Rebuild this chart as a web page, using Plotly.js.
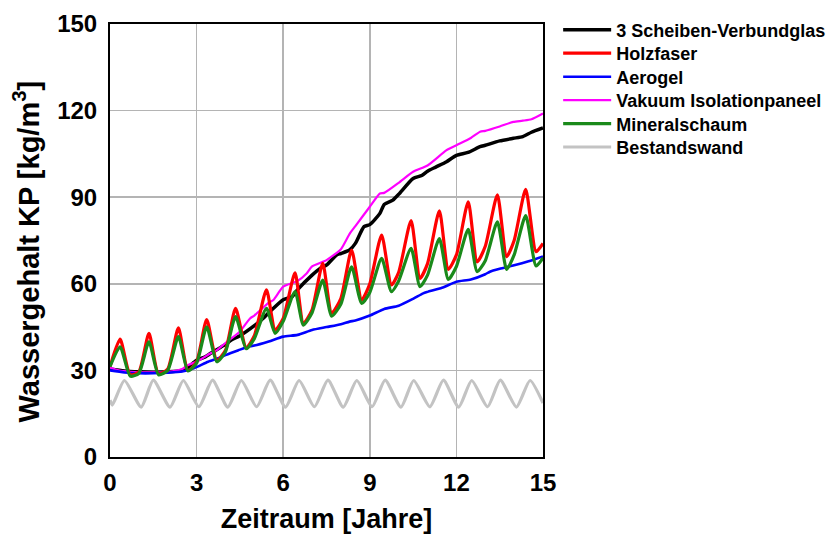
<!DOCTYPE html>
<html>
<head>
<meta charset="utf-8">
<script src="https://cdn.plot.ly/plotly-3.0.1.min.js"></script>
<style>html,body{margin:0;padding:0;background:#fff;}#chart{width:830px;height:537px;}</style>
</head>
<body>
<div id="chart"></div>
<script>
// ---- data ----
const seriesNames = ["3 Scheiben-Verbundglas","Holzfaser","Aerogel","Vakuum Isolationpaneel","Mineralschaum","Bestandswand"];

const glasX = [0,0.5,1.0,1.5,2.0,2.5,2.7,3.0,3.3,3.5,4.0,4.2,4.5,5.0,5.3,5.5,6.0,6.3,6.5,7.0,7.3,7.5,7.85,8.0,8.3,8.5,8.8,9.0,9.35,9.5,9.8,10.0,10.5,10.8,11.0,11.3,11.66,12.0,12.4,12.82,13.0,13.5,13.97,14.3,14.6,15.0];
const glasY = [30.5,29.8,29.5,29.4,29.5,30.0,31.0,33.5,34.7,36.0,39.0,40.5,42.0,45.5,48.0,50.0,54.5,55.5,58.0,63.0,65.5,66.5,70.0,70.5,71.7,74.0,79.8,80.5,84.4,87.5,89.0,91.0,96.5,97.5,99.0,100.5,102.3,104.5,105.5,107.5,108.0,109.5,110.4,111.0,112.5,114.0];

const holzX = [0,0.35,0.7,1.0,1.35,1.68,2.0,2.37,2.7,3.0,3.35,3.7,4.0,4.35,4.72,5.0,5.42,5.72,6.0,6.41,6.7,7.0,7.37,7.68,8.0,8.37,8.72,9.0,9.41,9.75,10.0,10.43,10.74,11.0,11.41,11.72,12.0,12.41,12.72,13.0,13.42,13.74,14.0,14.4,14.76,15.0];
const holzY = [31.3,40.8,28.5,29.5,42.8,28.8,30.5,44.7,30.0,33.0,47.6,33.5,37.0,51.5,37.8,42.0,57.9,44.0,48.0,63.8,46.3,51.0,67.1,49.8,55.0,71.7,54.4,60.0,76.9,59.6,64.0,81.9,61.9,67.0,85.3,65.0,70.0,88.4,67.6,73.0,90.8,69.4,75.0,92.7,71.1,74.0];

const aeroX = [0,0.5,1.0,1.5,2.0,2.5,2.9,3.4,3.75,4.0,4.45,4.85,5.0,5.5,6.0,6.5,7.0,7.5,8.0,8.3,8.5,9.0,9.5,10.0,10.5,10.85,11.0,11.5,12.0,12.5,13.0,13.16,13.5,14.0,14.5,15.0];
const aeroY = [30.0,29.3,29.0,29.0,29.2,29.6,30.7,33.0,34.2,35.3,37.0,38.4,38.6,40.0,41.7,42.3,44.0,45.0,46.0,46.9,47.3,49.0,51.3,52.4,54.8,56.7,57.2,58.6,60.7,61.5,63.3,64.2,65.2,66.4,67.8,69.5];

const vakX = [0,0.3,0.7,1.5,2.0,2.5,2.71,3.0,3.5,3.7,4.0,4.5,4.85,5.0,5.5,5.66,6.0,6.5,6.81,7.0,7.5,8.0,8.31,8.5,9.0,9.35,9.5,10.0,10.5,11.0,11.66,12.0,12.5,12.82,13.0,13.5,13.97,14.3,14.6,15.0];
const vakY = [31.0,30.0,29.5,29.3,29.5,30.5,31.9,33.0,36.0,37.0,39.5,43.5,48.0,49.0,53.5,54.4,59.0,61.0,63.6,66.0,68.2,72.0,77.5,80.0,86.7,91.3,91.5,95.0,98.8,101.0,106.3,108.0,110.5,112.7,113.0,114.5,116.1,116.5,117.0,119.0];

const minX = holzX;
const minY = [31.3,38.2,28.0,29.0,39.9,28.5,30.0,41.7,29.8,32.5,45.1,33.0,36.5,48.6,37.5,41.0,51.5,42.8,47.0,57.3,45.7,50.0,61.3,48.8,53.0,65.9,53.2,57.0,68.8,57.3,61.0,72.3,59.0,63.0,75.7,61.5,66.0,78.9,64.2,68.0,81.5,65.0,70.0,83.6,66.2,69.0];

const bestX = [0,0.08,0.5,1.08,1.5,2.08,2.54,3.08,3.55,4.08,4.55,5.08,5.55,6.08,6.55,7.08,7.55,8.08,8.55,9.08,9.53,10.08,10.52,11.08,11.55,12.08,12.53,13.08,13.52,14.08,14.55,15.0];
const bestY = [19.7,18.0,26.5,17.3,26.6,17.3,26.5,17.4,26.6,17.3,26.5,17.4,26.6,17.3,26.5,17.4,26.6,17.3,26.5,17.4,26.6,17.3,26.5,17.4,26.6,17.3,26.5,17.4,26.6,17.3,26.5,18.7];

const xTicks = [0,3,6,9,12,15];
const yTicks = [0,30,60,90,120,150];
const xTitle = "Zeitraum [Jahre]";
const yTitle = "Wassergehalt KP [kg/m<sup>3</sup>]";

// ---- styling ----
const FONT = "Liberation Sans, Arial, sans-serif";
const legendIds = ["legend","legend2","legend3","legend4","legend5","legend6"];
function tr(x, y, name, color, width, slot) {
  return {x: x, y: y, name: name, type: "scatter", mode: "lines",
          line: {color: color, width: width, shape: "spline", smoothing: 0.6},
          legend: legendIds[slot]};
}
const data = [
  tr(bestX, bestY, seriesNames[5], "#c3c3c3", 3.2, 5),
  tr(glasX, glasY, seriesNames[0], "#000000", 3.5, 0),
  tr(vakX, vakY, seriesNames[3], "#ff00ff", 2.2, 3),
  tr(aeroX, aeroY, seriesNames[2], "#0000ff", 2.6, 2),
  tr(holzX, holzY, seriesNames[1], "#ff0000", 3.2, 1),
  tr(minX, minY, seriesNames[4], "#1a8a1a", 3.2, 4)
];

// plot area in px: x 110..543, y 24..457
const PB = 457, PH = 433;
function legendBox(rowCenterPx) {
  return {x: 1.035, y: (PB - (rowCenterPx - 19.5)) / PH, xanchor: "left", yanchor: "top",
          font: {family: FONT, size: 18, weight: "bold", color: "#000"},
          itemwidth: 48, bgcolor: "rgba(0,0,0,0)"};
}

const layout = {
  width: 830, height: 537,
  margin: {l: 110, r: 287, t: 24, b: 80, autoexpand: false},
  paper_bgcolor: "#ffffff", plot_bgcolor: "#ffffff",
  font: {family: FONT, color: "#000", size: 20, weight: "bold"},
  showlegend: true,
  xaxis: {range: [0, 15], tickvals: xTicks, ticktext: xTicks.map(String),
          showgrid: true, gridcolor: "#b4b4b4", gridwidth: 1.5,
          showline: true, linecolor: "#000", linewidth: 2, mirror: true,
          ticks: "", ticklabelstandoff: 3, zeroline: false,
          tickfont: {family: FONT, size: 24, weight: "bold"},
          title: {text: xTitle, font: {family: FONT, size: 27, weight: "bold"}, standoff: 14}},
  yaxis: {range: [0, 150], tickvals: yTicks, ticktext: yTicks.map(String),
          showgrid: true, gridcolor: "#b4b4b4", gridwidth: 1.5,
          showline: true, linecolor: "#000", linewidth: 2, mirror: true,
          ticks: "", ticklabelstandoff: 6, zeroline: false,
          tickfont: {family: FONT, size: 24, weight: "bold"}},
  annotations: [{text: yTitle, textangle: -90, xref: "paper", yref: "paper",
                 x: (26.5 - 110) / PH, y: (PB - 252) / PH, xanchor: "center", yanchor: "middle",
                 showarrow: false, font: {family: FONT, size: 29, weight: "bold", color: "#000"}}]
};
const rows = [31, 54.5, 78, 101.5, 125, 148.3];
legendIds.forEach(function (id, i) { layout[id] = legendBox(rows[i]); });

Plotly.newPlot("chart", data, layout, {displayModeBar: false, staticPlot: true});
</script>
</body>
</html>
